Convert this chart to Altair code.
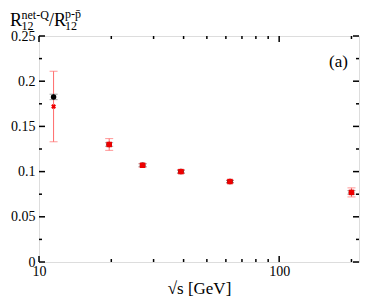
import altair as alt
import pandas as pd

# ---- data ----
energy = [11.5, 19.6, 27.0, 39.0, 62.4, 200.0]
black_val = [0.1826, 0.130, 0.107, 0.100, 0.089, 0.077]
black_err = [0.003, 0.002, 0.0015, 0.0015, 0.0012, 0.002]
red_val = [0.172, 0.130, 0.107, 0.100, 0.089, 0.077]
red_err = [0.039, 0.0065, 0.002, 0.002, 0.0015, 0.005]

x_major = [10, 100]
x_minor = [20, 30, 40, 50, 60, 70, 80, 90, 200]
y_major = [0, 0.05, 0.1, 0.15, 0.2, 0.25]
y_minor = [0.025, 0.075, 0.125, 0.175, 0.225]

FONT = "Times New Roman, Liberation Serif, serif"
W, H = 320, 226

df = pd.DataFrame({"energy": energy, "bv": black_val, "be": black_err,
                   "rv": red_val, "re": red_err})
df["blo"] = df["bv"] - df["be"]
df["bhi"] = df["bv"] + df["be"]
df["rlo"] = df["rv"] - df["re"]
df["rhi"] = df["rv"] + df["re"]

xs = alt.Scale(type="log", domain=[10, 215])
ys = alt.Scale(domain=[0, 0.25])

x_axis = alt.Axis(values=x_major, format="~g", tickSize=0, domain=False, grid=False,
                  labelFont=FONT, labelFontSize=14, labelColor="black", labelPadding=2,
                  labelFlush=False, title="√s [GeV]", titleFont=FONT, titleFontSize=17,
                  titleFontWeight="normal", titleColor="black", titlePadding=2)
y_axis = alt.Axis(values=y_major, format="~g", tickSize=0, domain=False, grid=False,
                  labelFont=FONT, labelFontSize=14, labelColor="black", labelPadding=4,
                  title=None)


def X(f):
    return alt.X(f, type="quantitative", scale=xs, axis=x_axis)


def Y(f):
    return alt.Y(f, type="quantitative", scale=ys, axis=y_axis)


base = alt.Chart(df)

# error bars
red_bar = base.mark_rule(color="#ff6b6b", strokeWidth=1).encode(x=X("energy"), y=Y("rlo"), y2="rhi")
red_cap_lo = base.mark_tick(color="#ff6b6b", size=8, thickness=1, orient="horizontal").encode(x=X("energy"), y=Y("rlo"))
red_cap_hi = base.mark_tick(color="#ff6b6b", size=8, thickness=1, orient="horizontal").encode(x=X("energy"), y=Y("rhi"))
blk_bar = base.mark_rule(color="#444444", strokeWidth=1).encode(x=X("energy"), y=Y("blo"), y2="bhi")
blk_cap_lo = base.mark_tick(color="#777777", size=8, thickness=1, orient="horizontal").encode(x=X("energy"), y=Y("blo"))
blk_cap_hi = base.mark_tick(color="#777777", size=8, thickness=1, orient="horizontal").encode(x=X("energy"), y=Y("bhi"))

blk_pts = base.mark_point(shape="circle", filled=True, color="black", size=30, opacity=1).encode(x=X("energy"), y=Y("bv"))
red_sq = base.transform_filter("datum.energy > 12").mark_point(shape="square", filled=True, color="#ee0000", size=30, opacity=1).encode(x=X("energy"), y=Y("rv"))
red_star = base.transform_filter("datum.energy < 12").mark_point(shape="cross", filled=True, color="#ee0000", size=24, opacity=1, angle=45).encode(x=X("energy"), y=Y("rv"))

# inward ticks
def xticks(vals, ln):
    d = alt.Chart(pd.DataFrame({"v": vals}))
    bot = d.mark_rule(color="black", strokeWidth=1.5).encode(x=X("v"), y=alt.value(H), y2=alt.value(H - ln))
    top = d.mark_rule(color="black", strokeWidth=1.5).encode(x=X("v"), y=alt.value(0), y2=alt.value(ln))
    return [bot, top]


def yticks(vals, ln):
    d = alt.Chart(pd.DataFrame({"v": vals}))
    lef = d.mark_rule(color="black", strokeWidth=1.5).encode(y=Y("v"), x=alt.value(0), x2=alt.value(ln))
    rig = d.mark_rule(color="black", strokeWidth=1.5).encode(y=Y("v"), x=alt.value(W), x2=alt.value(W - ln))
    return [lef, rig]


ticks = xticks(x_major, 6) + xticks(x_minor, 3) + yticks(y_major, 6) + yticks(y_minor, 3)

# title pieces
one = alt.Chart(pd.DataFrame({"a": [0]}))


def txt(s, x, y, size):
    return one.mark_text(text=s, font=FONT, fontSize=size, color="black", align="left",
                         baseline="alphabetic").encode(x=alt.value(x), y=alt.value(y))


title_parts = [
    txt("R", -29, -10, 18),
    txt("12", -17.5, -6, 12),
    txt("net-Q", -17.5, -17, 12),
    txt("/R", 10, -10, 18),
    txt("p-p\u0304", 26, -18, 12),
    txt("12", 26, -6, 12),
    txt("(a)", 290, 31, 17),
]

chart = alt.layer(
    red_bar, red_cap_lo, red_cap_hi, blk_bar, blk_cap_lo, blk_cap_hi,
    blk_pts, red_sq, red_star, *ticks, *title_parts
).properties(
    width=W, height=H,
    autosize=alt.AutoSizeParams(type="none"),
    padding={"left": 31, "top": 28, "right": 1, "bottom": 35},
).configure_view(stroke="black", strokeWidth=2).configure(background="white")

chart.save("out.html", embed_options={"renderer": "svg", "actions": False})
